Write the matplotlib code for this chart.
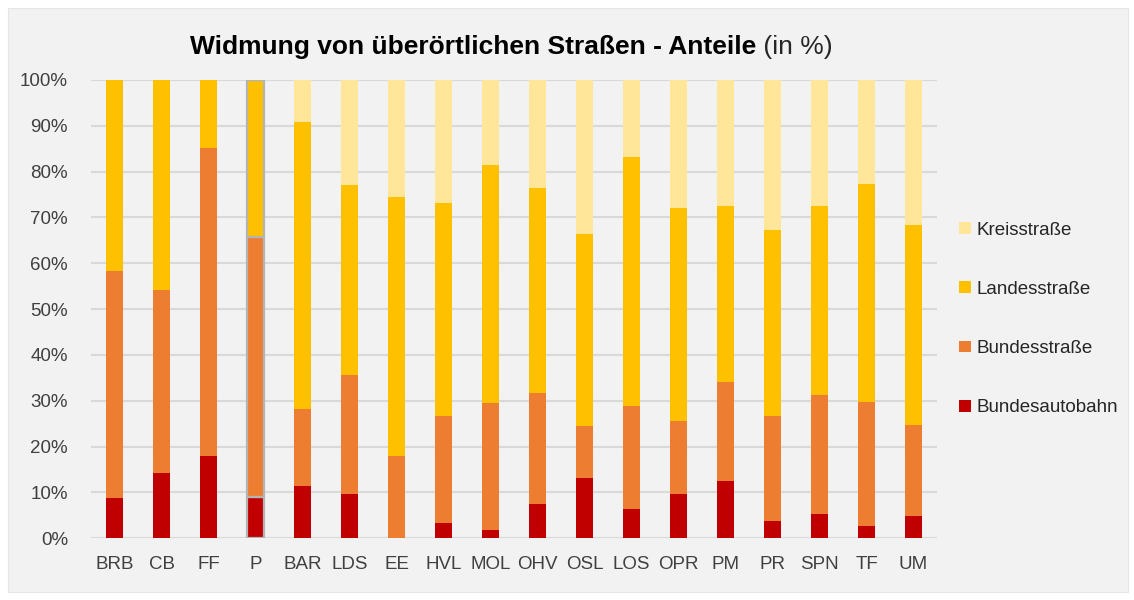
import numpy as np
import matplotlib
matplotlib.use("Agg")
import matplotlib.pyplot as plt
from matplotlib.patches import Rectangle

plt.rcParams['font.family'] = ['Liberation Sans', 'DejaVu Sans']

# ---------------------------------------------------------------- data (in %)
kreise = ["BRB", "CB", "FF", "P", "BAR", "LDS", "EE", "HVL", "MOL", "OHV",
          "OSL", "LOS", "OPR", "PM", "PR", "SPN", "TF", "UM"]
bundesautobahn = [8.9, 14.2, 18.0, 9.1, 11.4, 9.7, 0.0, 3.3, 1.8, 7.4,
                  13.1, 6.3, 9.7, 12.5, 3.8, 5.2, 2.7, 4.9]
bundesstrasse = [49.4, 40.0, 67.2, 56.7, 16.8, 26.0, 18.0, 23.4, 27.7, 24.4,
                 11.4, 22.6, 15.9, 21.5, 22.9, 26.1, 27.1, 19.8]
landesstrasse = [41.7, 45.8, 14.8, 34.2, 62.6, 41.4, 56.5, 46.4, 52.0, 44.7,
                 41.9, 54.3, 46.4, 38.6, 40.6, 41.3, 47.5, 43.7]
kreisstrasse = [0.0, 0.0, 0.0, 0.0, 9.2, 22.9, 25.5, 26.9, 18.5, 23.5,
                33.6, 16.8, 28.0, 27.4, 32.7, 27.4, 22.7, 31.6]

series = [("Bundesautobahn", bundesautobahn, "#C00000"),
          ("Bundesstraße", bundesstrasse, "#ED7D31"),
          ("Landesstraße", landesstrasse, "#FFC000"),
          ("Kreisstraße", kreisstrasse, "#FFE699")]

# ---------------------------------------------------------------- figure
fig = plt.figure(figsize=(11.34, 6.0), dpi=100, facecolor="white")
fig.patches.append(Rectangle((8 / 1134, 8 / 600), 1120 / 1134, 584 / 600,
                             transform=fig.transFigure, facecolor="#F2F2F2",
                             edgecolor="#E6E6E6", lw=0.8, zorder=-10))

ax = fig.add_axes([91 / 1134, 1 - 538.3 / 600, 846 / 1134, 458.3 / 600])
ax.set_facecolor("none")

x = np.arange(len(kreise))
bottom = np.zeros(len(kreise))
handles = []
for name, vals, col in series:
    vals = np.array(vals)
    bars = ax.bar(x, vals, 0.38, bottom=bottom, color=col, label=name, zorder=3)
    # the "P" bar is shown with a grey selection outline
    bars[kreise.index("P")].set_edgecolor("#B4B4B4")
    bars[kreise.index("P")].set_linewidth(1.6)
    handles.append(bars)
    bottom += vals

ax.set_xlim(-0.5, len(kreise) - 0.5)
ax.set_ylim(0, 100)
ax.set_yticks(np.arange(0, 101, 10))
ax.set_yticklabels([f"{v}%" for v in range(0, 101, 10)])
ax.set_xticks(x)
ax.set_xticklabels(kreise)
ax.tick_params(axis="y", length=0, pad=16.5, labelsize=13.5, labelcolor="#404040")
ax.tick_params(axis="x", length=0, pad=13, labelsize=13.5, labelcolor="#404040")
ax.grid(axis="y", color="#D9D9D9", lw=1.5, zorder=0)
for s in ax.spines.values():
    s.set_visible(False)

# ---------------------------------------------------------------- legend
leg = fig.legend(handles[::-1], [s[0] for s in series[::-1]],
                 loc="center left", bbox_to_anchor=(950 / 1134, 1 - 319 / 600),
                 frameon=False, fontsize=13.5, handlelength=0.6, handleheight=0.6,
                 handletextpad=0.3, labelspacing=2.25, borderpad=0)
for t in leg.get_texts():
    t.set_color("#262626")

# ---------------------------------------------------------------- title
t1 = fig.text(190 / 1134, 1 - 54 / 600, "Widmung von überörtlichen Straßen - Anteile",
              fontsize=19, fontweight="bold", color="black", ha="left", va="baseline")
fig.canvas.draw()
ax.annotate(" (in %)", xy=(1, 0), xycoords=t1, va="bottom", ha="left",
            fontsize=19, color="#262626")

fig.savefig("out.png", dpi=100, facecolor=fig.get_facecolor())
